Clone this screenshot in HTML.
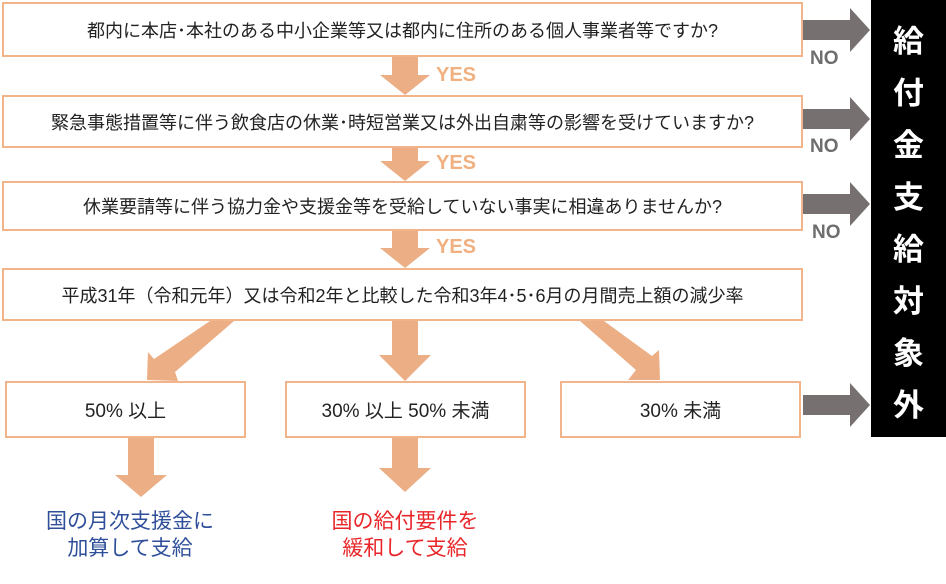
<!DOCTYPE html>
<html><head><meta charset="utf-8"><style>
body{margin:0;width:946px;height:584px;background:#fff;position:relative;overflow:hidden;font-family:"Liberation Sans","Noto Sans CJK JP",sans-serif}
.b{position:absolute;border:2px solid #f2b48a;box-sizing:border-box;display:flex;align-items:center;justify-content:center;font-size:18px;color:#222;background:#fff;white-space:nowrap}
.t{position:absolute;text-align:center;font-size:21px;line-height:27px}
.yes{position:absolute;color:#f0b080;font-weight:bold;font-size:20px}
.no{position:absolute;color:#6e6e6e;font-weight:bold;font-size:19px}
#panel{position:absolute;left:871px;top:0;width:75px;height:437px;background:#000;color:#fff;font-weight:bold;font-size:31px;text-align:center;line-height:52px;padding-top:16px;box-sizing:border-box}
</style></head><body>
<div class="b" style="left:2px;top:2px;width:801px;height:55px">都内に本店･本社のある中小企業等又は都内に住所のある個人事業者等ですか?</div>
<div class="b" style="left:2px;top:95px;width:801px;height:53px">緊急事態措置等に伴う飲食店の休業･時短営業又は外出自粛等の影響を受けていますか?</div>
<div class="b" style="left:2px;top:181px;width:801px;height:50px">休業要請等に伴う協力金や支援金等を受給していない事実に相違ありませんか?</div>
<div class="b" style="left:2px;top:268px;width:801px;height:53px">平成31年（令和元年）又は令和2年と比較した令和3年4･5･6月の月間売上額の減少率</div>
<div class="b" style="left:5px;top:381px;width:241px;height:57px;font-size:19px">50% 以上</div>
<div class="b" style="left:285px;top:381px;width:241px;height:57px;font-size:19px">30% 以上 50% 未満</div>
<div class="b" style="left:560px;top:381px;width:241px;height:57px;font-size:19px">30% 未満</div>
<div id="panel">給<br>付<br>金<br>支<br>給<br>対<br>象<br>外</div>
<svg style="position:absolute;left:0;top:0" width="946" height="584">
<g fill="#ecae84">
<polygon points="392,57 418,57 418,75 430,75 405,95 380,75 392,75"/>
<polygon points="392,148 418,148 418,161 430,161 405,181 380,161 392,161"/>
<polygon points="392,231 418,231 418,248 430,248 405,268 380,248 392,248"/>
<polygon points="392,321 418,321 418,355 431,355 405,381 379,355 392,355"/>
<polygon points="210,321 234,321 175,372 178,381 147,380 148,352 154,359"/>
<polygon points="580,321 604,321 652,356 659,350 660,380 628,380 636,370"/>
<polygon points="128,438 154,438 154,475 167,475 141,497 115,475 128,475"/>
<polygon points="392,438 418,438 418,468 431,468 405,492 379,468 392,468"/>
</g>
<g fill="#767170">
<polygon points="803,20 850,20 850,8 870,30 850,52 850,40 803,40"/>
<polygon points="803,109 850,109 850,97 870,119 850,141 850,129 803,129"/>
<polygon points="803,194 850,194 850,182 870,204 850,226 850,214 803,214"/>
<polygon points="803,395 850,395 850,383 870,405 850,427 850,415 803,415"/>
</g>
</svg>
<div class="yes" style="left:436px;top:64px">YES</div>
<div class="yes" style="left:436px;top:152px">YES</div>
<div class="yes" style="left:436px;top:236px">YES</div>
<div class="no" style="left:810px;top:48px">NO</div>
<div class="no" style="left:810px;top:136px">NO</div>
<div class="no" style="left:812px;top:222px">NO</div>
<div class="t" style="left:10px;top:508px;width:240px;color:#2f4f9a">国の月次支援金に<br>加算して支給</div>
<div class="t" style="left:285px;top:508px;width:240px;color:#e8262a">国の給付要件を<br>緩和して支給</div>
</body></html>
